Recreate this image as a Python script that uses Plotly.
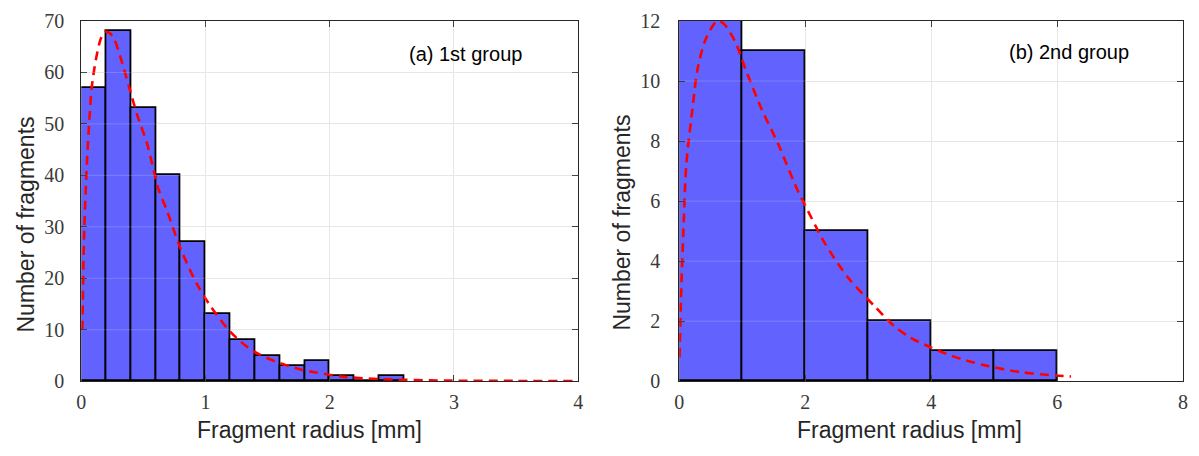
import numpy as np
import plotly.graph_objects as go

# ---------------- data ----------------
# (a) 1st group : histogram, bin width 0.2 mm starting at 0
a_bin_width = 0.2
a_counts = [57, 68, 53, 40, 27, 13, 8, 5, 3, 4, 1, 0, 1]
a_fit_x = [0.008, 0.012, 0.016, 0.024, 0.035, 0.05, 0.065, 0.083, 0.117, 0.157, 0.19, 0.23,
           0.264, 0.317, 0.384, 0.45, 0.53, 0.62, 0.69, 0.80, 0.93, 1.04, 1.2, 1.38,
           1.6, 1.78, 1.89, 2.1, 2.42, 2.95, 3.5, 3.97]
a_fit_y = [10, 16, 22, 30, 37, 45, 51, 57, 62.5, 66.6, 67.9, 67.6,
           66.5, 62.8, 57.2, 51.7, 46.1, 37.4, 33.1, 25.7, 18.9, 14.6, 9.6, 5.9,
           3.5, 2.2, 1.7, 0.9, 0.4, 0.12, 0.06, 0.05]

# (b) 2nd group : histogram, bin width 1 mm starting at 0
b_bin_width = 1.0
b_counts = [12, 11, 5, 2, 1, 1]
b_fit_x = [0.005, 0.027, 0.063, 0.11, 0.21, 0.29, 0.42, 0.6, 0.71, 0.89, 1.05, 1.31,
           1.57, 1.89, 2.0, 2.31, 2.68, 3.1, 3.41, 3.67, 3.99, 4.36, 4.83, 5.4, 5.98, 6.22]
b_fit_y = [0.8, 2.8, 4.9, 7.2, 9.1, 10.4, 11.4, 12.0, 11.9, 11.3, 10.4, 9.05,
           7.9, 6.3, 5.85, 4.6, 3.45, 2.5, 1.84, 1.45, 1.13, 0.82, 0.54, 0.31, 0.19, 0.16]

a_xticks = [0, 1, 2, 3, 4]
a_yticks = [0, 10, 20, 30, 40, 50, 60, 70]
b_xticks = [0, 2, 4, 6, 8]
b_yticks = [0, 2, 4, 6, 8, 10, 12]

x_title = "Fragment radius [mm]"
y_title = "Number of fragments"
label_a = "(a) 1st group"
label_b = "(b) 2nd group"

# ---------------- style ----------------
W, H = 1199, 456
BAR_FILL = "#6262ff"
AX = "#262626"
GRID = "#e3e3e3"
TICKFONT = dict(family="Liberation Serif", size=20, color="#3a3a3a")
TITLEFONT = dict(family="Liberation Sans", size=23, color=AX)


def px_x(p):
    return p / W


def px_y(p):
    return 1 - p / H


fig = go.Figure()

a_centers = np.arange(len(a_counts)) * a_bin_width + a_bin_width / 2
b_centers = np.arange(len(b_counts)) * b_bin_width + b_bin_width / 2

fig.add_trace(go.Bar(x=a_centers, y=a_counts, width=a_bin_width,
                     marker=dict(color=BAR_FILL, line=dict(color="black", width=1.8)),
                     xaxis="x", yaxis="y", showlegend=False))
fig.add_trace(go.Bar(x=b_centers, y=b_counts, width=b_bin_width,
                     marker=dict(color=BAR_FILL, line=dict(color="black", width=1.8)),
                     xaxis="x2", yaxis="y2", showlegend=False))

# faint grid drawn over the bars (as in the reference)
over = dict(color="rgba(255,255,255,0.18)", width=1)
for xr, yr, xt, yt in [("x", "y", a_xticks, a_yticks), ("x2", "y2", b_xticks, b_yticks)]:
    for v in yt[1:-1]:
        fig.add_shape(type="line", xref=f"{xr} domain", yref=yr, x0=0, x1=1, y0=v, y1=v,
                      line=over, layer="above")
    for v in xt[1:-1]:
        fig.add_shape(type="line", xref=xr, yref=f"{yr} domain", x0=v, x1=v, y0=0, y1=1,
                      line=over, layer="above")

fig.add_trace(go.Scatter(x=a_fit_x, y=a_fit_y, mode="lines",
                         line=dict(color="#ff0000", width=2.6, dash="9px,6px",
                                   shape="spline", smoothing=0.8),
                         xaxis="x", yaxis="y", showlegend=False))
fig.add_trace(go.Scatter(x=b_fit_x, y=b_fit_y, mode="lines",
                         line=dict(color="#ff0000", width=2.6, dash="9px,6px",
                                   shape="spline", smoothing=0.8),
                         xaxis="x2", yaxis="y2", showlegend=False))

common = dict(showline=True, linecolor=AX, linewidth=1, mirror="ticks",
              ticks="inside", ticklen=6, tickcolor=AX, tickwidth=1,
              showgrid=True, gridcolor=GRID, gridwidth=1, zeroline=False,
              tickfont=TICKFONT, ticklabeloverflow="allow")

ydom = [px_y(389), px_y(10.5)]
fig.update_layout(
    width=W, height=H,
    margin=dict(l=0, r=0, t=0, b=0),
    paper_bgcolor="white", plot_bgcolor="white",
    bargap=0,
    xaxis=dict(domain=[px_x(77), px_x(578)], range=[0, 4.0001], tickvals=a_xticks,
               anchor="y", ticklabelstandoff=3, **common),
    yaxis=dict(domain=ydom, range=[0, 70.001], tickvals=a_yticks,
               anchor="x", ticklabelstandoff=12, **common),
    xaxis2=dict(domain=[px_x(680), px_x(1188)], range=[0, 8.0001], tickvals=b_xticks,
                anchor="y2", ticklabelstandoff=3, **common),
    yaxis2=dict(domain=ydom, range=[0, 12.0001], tickvals=b_yticks,
                anchor="x2", ticklabelstandoff=14, **common),
)

annotations = [
    dict(text=x_title, x=px_x(307), y=px_y(440)),
    dict(text=x_title, x=px_x(912), y=px_y(440)),
    dict(text=y_title, x=px_x(21.5), y=px_y(224), textangle=-90),
    dict(text=y_title, x=px_x(622.5), y=px_y(222), textangle=-90),
]
for an in annotations:
    fig.add_annotation(xref="paper", yref="paper", xanchor="center", yanchor="middle",
                       showarrow=False, font=TITLEFONT, **an)

fig.add_annotation(text=label_a, xref="paper", yref="paper", x=px_x(405), y=px_y(45),
                   xanchor="left", yanchor="middle", showarrow=False,
                   font=dict(family="Liberation Sans", size=20, color="black"))
fig.add_annotation(text=label_b, xref="paper", yref="paper", x=px_x(1010), y=px_y(43),
                   xanchor="left", yanchor="middle", showarrow=False,
                   font=dict(family="Liberation Sans", size=20, color="black"))

post = ("document.documentElement.style.margin='0';document.body.style.margin='0';"
        "document.documentElement.style.overflow='hidden';document.body.style.overflow='hidden';"
        "var d=document.querySelector('.plotly-graph-div');"
        "d.style.position='fixed';d.style.left='0px';d.style.top='0px';")
fig.write_html("out.html", post_script=post)
